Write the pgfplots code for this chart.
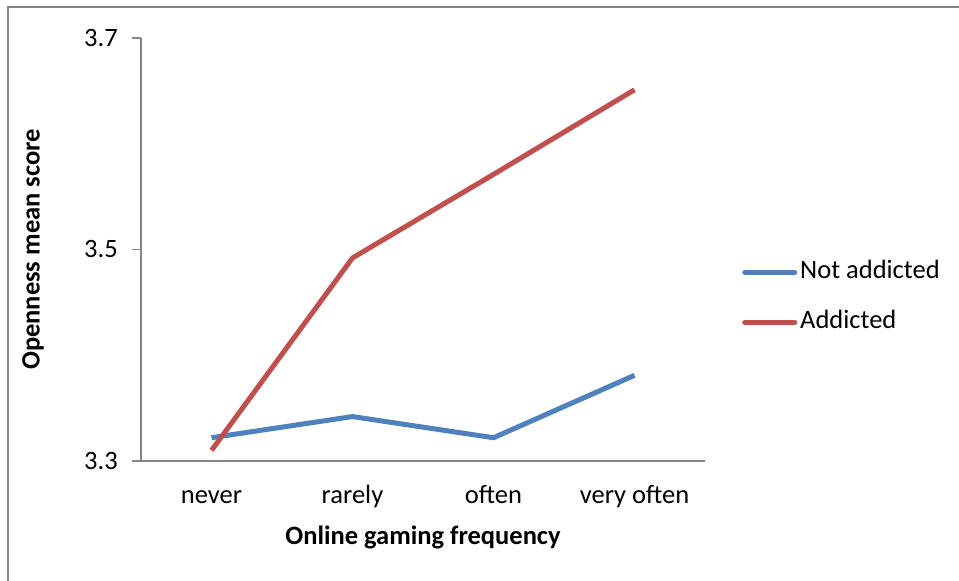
\documentclass[border=0pt]{standalone}
\usepackage{fontspec}
\setmainfont{Carlito}
\usepackage{pgfplots}
\pgfplotsset{compat=1.18}
\definecolor{exblue}{HTML}{4F81BD}
\definecolor{exred}{HTML}{C0504D}
\definecolor{axgray}{HTML}{868686}
\begin{document}
\begin{tikzpicture}[x=1pt,y=1pt]
\useasboundingbox (0,0) rectangle (959,581);
\draw[color=axgray, line width=1.6pt] (8,0) -- (8,574) -- (959,574);
\begin{axis}[
  at={(141pt,120pt)}, anchor=south west,
  scale only axis, width=564pt, height=423pt,
  font=\fontsize{26.5}{31}\selectfont,
  /pgf/number format/assume math mode=true,
  axis lines*=left,
  axis line style={color=axgray, line width=1.5pt},
  xmin=0.5, xmax=4.5, ymin=3.3, ymax=3.7,
  ytick={3.3,3.5,3.7},
  yticklabel style={/pgf/number format/fixed, /pgf/number format/fixed zerofill, /pgf/number format/precision=1, inner sep=0pt, xshift=-14pt},
  xtick={1,2,3,4},
  xticklabels={never,rarely,often,very often},
  xticklabel style={inner sep=0pt, text height=18pt, text depth=6pt, yshift=-15pt},
  x tick style={draw=none},
  minor xtick={0.5,1.5,2.5,3.5,4.5},
  minor x tick style={color=axgray, line width=1.5pt},
  y tick style={color=axgray, line width=1.5pt},
  tick align=outside,
  major tick length=9pt, minor tick length=9pt,
  xlabel={\bfseries Online gaming frequency},
  ylabel={\bfseries Openness mean score},
  xlabel style={at={(axis description cs:0.5,-0.18)}, anchor=center, inner sep=0pt},
  ylabel style={at={(axis description cs:-0.1915,0.5)}, anchor=center, inner sep=0pt},
  legend style={draw=none, fill=none, at={(axis description cs:1.0656,0.387)}, anchor=west, inner sep=0pt, row sep=26pt, column sep=3pt, nodes={inner sep=0pt, text height=18pt, text depth=6pt}},
  legend cell align=left,
  legend image code/.code={\draw[#1, line cap=round] (2.5pt,0pt) -- (52.5pt,0pt);},
  clip=false,
]
\addplot[exblue, line width=5pt] coordinates {(1,3.322) (2,3.342) (3,3.322) (4,3.381)};
\addlegendentry{Not addicted}
\addplot[exred, line width=5pt] coordinates {(1,3.310) (2,3.492) (3,3.571) (4,3.651)};
\addlegendentry{Addicted}
\end{axis}
\end{tikzpicture}
\end{document}
